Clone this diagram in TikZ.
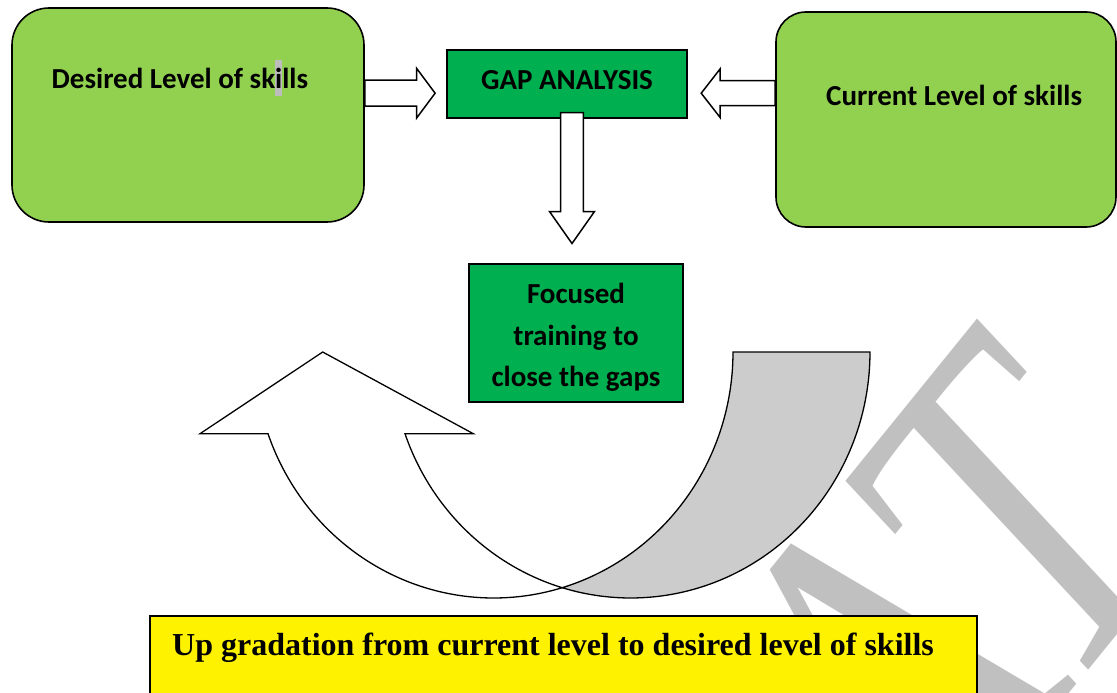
\documentclass[tikz,border=0pt]{standalone}
\usepackage{fontspec}
\setmainfont{Carlito}
\newfontfamily\timesfont{Liberation Serif}
\usetikzlibrary{calc}
\definecolor{lightgreen}{HTML}{92D050}
\definecolor{darkgreen}{HTML}{00B050}
\definecolor{hlgray}{HTML}{BDBDBD}
\definecolor{bandgray}{HTML}{CCCCCC}
\definecolor{wmgray}{HTML}{C0C0C0}
\begin{document}
\begin{tikzpicture}[x=1pt,y=-1pt,
  levelbox/.style={draw=black, line width=1.6pt, fill=lightgreen, rounded corners=#1, inner sep=0pt},
  stepbox/.style={draw=black, line width=1.6pt, fill=darkgreen, inner sep=0pt},
  boxtext/.style={inner sep=0pt, font=\fontsize{29}{41.7}\selectfont\bfseries},
  blockarrowstyle/.style={draw=black, fill=white, line width=1.5pt, line join=miter},
  curvestyle/.style={draw=black, line width=1.3pt, line join=miter},
  pics/blockarrow/.style n args={4}{code={
    \draw[blockarrowstyle] (0,#2) -- ({#1-#4},#2) -- ({#1-#4},#3) -- (#1,0)
      -- ({#1-#4},-#3) -- ({#1-#4},-#2) -- (0,-#2) -- cycle;}},
]
\useasboundingbox (0,0) rectangle (1117,693);
\clip (0,0) rectangle (1117,693);

% background watermark, slanted and stretched
\begin{scope}[shift={(1193,541)}, yscale=1.15]
  \node[transform shape, rotate=47, anchor=base east, inner sep=0pt, text=wmgray,
        font=\timesfont\fontsize{335}{335}\selectfont] (watermark) at (0,0)
        {\scalebox{1}[1.32]{AT}};
\end{scope}

% skill level boxes
\node[levelbox=37, minimum width=352pt, minimum height=214pt] (desired) at (188,115) {};
\node[boxtext, anchor=base west] (desiredtext) at (51.5,88.3)
  {Desired Level of sk{\fboxsep=0pt\colorbox{hlgray}{\rule[-8pt]{0pt}{36pt}i}}lls};
\node[levelbox=30, minimum width=340pt, minimum height=215pt] (current) at (946,119.5) {};
\node[boxtext, anchor=base west] (currenttext) at (826,106) {Current Level of skills};

% analysis and training steps
\node[stepbox, minimum width=240pt, minimum height=68pt] (gap) at (567,84) {};
\node[boxtext, anchor=base] (gaptext) at (567,90) {GAP ANALYSIS};
\node[stepbox, minimum width=214pt, minimum height=138pt] (focused) at (576,333) {};
\node[boxtext, align=center] (focusedtext) at (576,337.5)
  {Focused\\training to\\close the gaps};

% block arrows
\coordinate (a1) at (desired.east |- 0,93.2);
\pic at (a1) {blockarrow={70.3}{13}{25}{18.6}};
\coordinate (a2) at (current.west |- 0,93.2);
\pic[rotate=180] at (a2) {blockarrow={74}{12.5}{24.4}{19}};
\coordinate (a3) at ($(gap.south)+(5,-6.3)$);
\pic[rotate=-90] at (a3) {blockarrow={131}{11.3}{22.5}{32}};

% curved up arrow built from two shifted half ellipses
\def\cxA{630.7}
\def\cxB{493.7}
\def\cyy{352}
\def\rxx{239.3}
\def\ryy{246}
\filldraw[curvestyle, fill=bandgray]
  plot[domain=0:106.6, samples=90] ({\cxA+\rxx*cos(\x)},{\cyy+\ryy*sin(\x)})
  -- plot[domain=73.4:0, samples=90] ({\cxB+\rxx*cos(\x)},{\cyy+\ryy*sin(\x)})
  -- cycle;
\filldraw[curvestyle, fill=white]
  plot[domain=73.4:160.6, samples=90] ({\cxB+\rxx*cos(\x)},{\cyy+\ryy*sin(\x)})
  -- (200,433.7) -- (322.7,352) -- (473.3,433.7)
  -- plot[domain=160.6:106.6, samples=90] ({\cxA+\rxx*cos(\x)},{\cyy+\ryy*sin(\x)})
  -- cycle;

% result box
\node[draw=black, line width=1.6pt, fill=yellow, minimum width=827pt,
      minimum height=104pt, inner sep=0pt] (upgrade) at (563.5,668) {};
\node[font=\timesfont\fontsize{32}{38}\selectfont\bfseries, anchor=base west,
      inner sep=0pt] (upgradetext) at (172,655)
  {Up gradation from current level to desired level of skills};
\end{tikzpicture}
\end{document}
